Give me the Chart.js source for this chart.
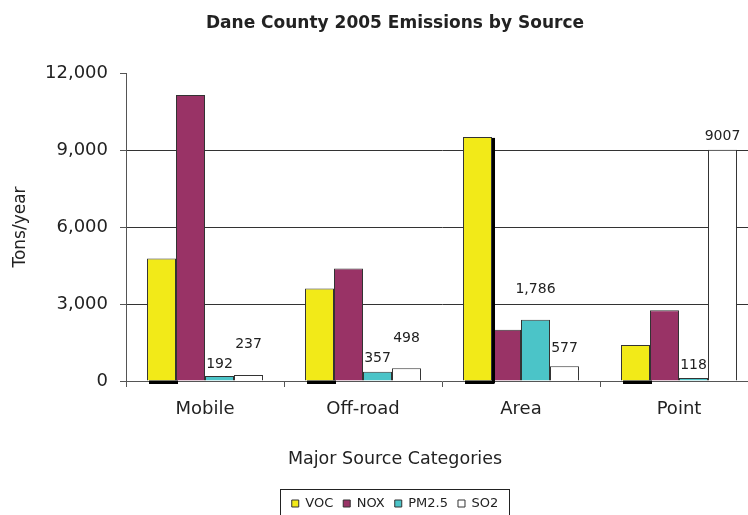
<!DOCTYPE html>
<html>
<head>
<meta charset="utf-8">
<script src="https://cdn.jsdelivr.net/npm/chart.js@4"></script>
<style>
  html, body { margin: 0; padding: 0; background: #fff; overflow: hidden; }
  #wrap { width: 790px; height: 520px; }
</style>
</head>
<body>
<div id="wrap"><canvas id="emissionsChart" width="790" height="520"></canvas></div>
<script>
const categories = ["Mobile", "Off-road", "Area", "Point"];
const vocTons = [4770, 3600, 9510, 1400];
const noxTons = [11140, 4380, 2000, 2760];
// the Area PM2.5 bar is drawn taller than its "1,786" label in the original
const pm25Tons = [192, 357, 2390, 118];
const so2Tons = [237, 498, 577, 9007];
const pm25Labels = ["192", "357", "1,786", "118"];
const so2Labels = ["237", "498", "577", "9007"];
const yTicks = [0, 3000, 6000, 9000, 12000];

// how far above the bar top each value label sits
const pm25Rise = [12, 13, 30, 13];
const so2Rise = [31, 30, 18, 13];

const FONT = "'DejaVu Sans', Verdana, sans-serif";
Chart.defaults.font.family = FONT;
Chart.defaults.color = "#222";

const valueLabels = {
    id: "valueLabels",
    afterDatasetsDraw(chart) {
    const ctx = chart.ctx;
    ctx.save();
    ctx.font = "14px " + FONT;
    ctx.fillStyle = "#222";
    ctx.textAlign = "center";
    ctx.textBaseline = "middle";
    chart.getDatasetMeta(2).data.forEach((bar, i) => {
        ctx.fillText(pm25Labels[i], bar.x, bar.y - pm25Rise[i]);
    });
    chart.getDatasetMeta(3).data.forEach((bar, i) => {
        ctx.fillText(so2Labels[i], bar.x, bar.y - so2Rise[i]);
    });
    ctx.restore();
    }
};

// black shadow under the VOC bars (and the side of the Area one)
const vocShadow = {
    id: "vocShadow",
    afterDraw(chart) {
    const ctx = chart.ctx;
    ctx.save();
    ctx.fillStyle = "#000";
    chart.getDatasetMeta(0).data.forEach((bar, i) => {
        const left = bar.x - bar.width / 2;
        ctx.fillRect(left + 2, bar.base, bar.width, 3.5);
        if (categories[i] === "Area") {
        ctx.fillRect(left + bar.width, bar.y + 1, 3, bar.base - bar.y + 2);
        }
    });
    ctx.restore();
    }
};

const legendFrame = {
    id: "legendFrame",
    afterDraw(chart) {
    const boxes = chart.legend.legendHitBoxes;
    if (!boxes || !boxes.length) return;
    const left = Math.min(...boxes.map(b => b.left)) - 12;
    const right = Math.max(...boxes.map(b => b.left + b.width)) + 11;
    const top = chart.legend.top + 2;
    const ctx = chart.ctx;
    ctx.save();
    ctx.strokeStyle = "#222";
    ctx.lineWidth = 1;
    ctx.strokeRect(Math.round(left) + 0.5, Math.round(top) + 0.5, Math.round(right - left), 60);
    ctx.restore();
    }
};

const ctx = document.getElementById("emissionsChart").getContext("2d");
new Chart(ctx, {
    type: "bar",
    data: {
    labels: categories,
    datasets: [
        { label: "VOC", data: vocTons, backgroundColor: "#F2EA18" },
        { label: "NOX", data: noxTons, backgroundColor: "#993366" },
        { label: "PM2.5", data: pm25Tons, backgroundColor: "#4BC4C8" },
        { label: "SO2", data: so2Tons, backgroundColor: "#FFFFFF" }
    ].map(ds => Object.assign(ds, {
        borderColor: "#333",
        borderWidth: 1,
        barPercentage: 1,
        categoryPercentage: 0.734
    }))
    },
    options: {
    responsive: false,
    animation: false,
    layout: { padding: 0 },
    plugins: {
        title: {
        display: true,
        text: "Dane County 2005 Emissions by Source",
        font: { size: 17, weight: "bold" },
        color: "#222",
        padding: { top: 13, bottom: 39.6 }
        },
        subtitle: {
        display: true,
        position: "bottom",
        weight: 500,
        text: "Major Source Categories",
        font: { size: 17.5 },
        color: "#222",
        padding: { top: 16, bottom: 17.4 }
        },
        legend: {
        position: "bottom",
        labels: {
            boxWidth: 7,
            boxHeight: 7,
            padding: 10,
            font: { size: 13 },
            color: "#222"
        }
        },
        tooltip: { enabled: false }
    },
    scales: {
        x: {
        offset: true,
        grid: {
            offset: true,
            drawOnChartArea: false,
            tickLength: 6,
            tickColor: "#555"
        },
        border: { color: "#555" },
        ticks: { font: { size: 18 }, color: "#222", padding: 12 }
        },
        y: {
        min: 0,
        max: 12000,
        afterBuildTicks: scale => {
            scale.ticks = yTicks.map(v => ({ value: v }));
        },
        afterFit: scale => { scale.width = 126; },
        grid: {
            color: c => (c.tick && (c.tick.value === 0 || c.tick.value === 12000)) ? "rgba(0,0,0,0)" : "#333",
            tickColor: "#555",
            tickLength: 6
        },
        border: { color: "#555" },
        ticks: {
            font: { size: 18 },
            color: "#222",
            padding: 12,
            callback: v => v.toLocaleString("en-US")
        },
        title: {
            display: true,
            text: "Tons/year",
            font: { size: 17 },
            color: "#222",
            padding: { top: 10, bottom: 0 }
        }
        },
        yPad: {
        position: "right",
        display: true,
        grid: { display: false },
        border: { display: false },
        ticks: { display: false },
        afterFit: scale => { scale.width = 32; }
        }
    }
    },
    plugins: [valueLabels, vocShadow, legendFrame]
});
</script>
</body>
</html>
